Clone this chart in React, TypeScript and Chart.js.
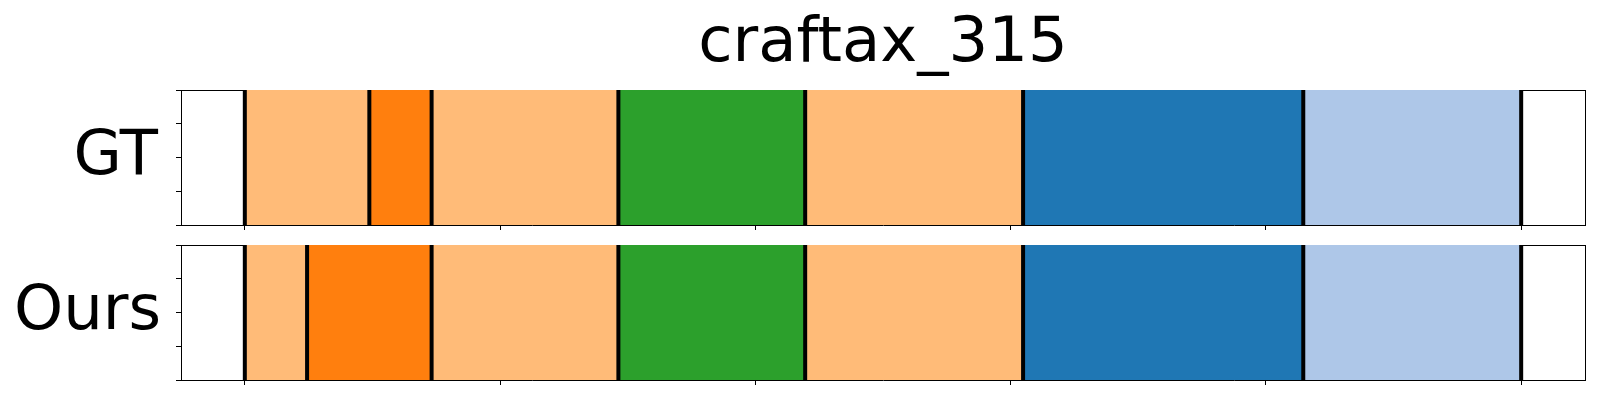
import React, { useEffect, useRef } from "react";
import { Chart, registerables } from "chart.js";

Chart.register(...registerables);
Chart.defaults.font.family = "'DejaVu Sans', sans-serif";

// ---- data ----
const titleText = "craftax_315";
const rowLabels = ["GT", "Ours"];
const totalFrames = 41;
const gtBoundaries = [0, 4, 6, 12, 18, 25, 34, 41];
const gtClasses = [3, 2, 3, 4, 3, 0, 1];
const oursBoundaries = [0, 2, 6, 12, 18, 25, 34, 41];
const oursClasses = [3, 2, 3, 4, 3, 0, 1];
const xTickValues = [0, 0.2, 0.4, 0.6, 0.8, 1.0];
const yTickValues = [0, 0.25, 0.5, 0.75, 1.0];

// ---- style ----
const palette = ["#1f77b4", "#aec7e8", "#ff7f0e", "#ffbb78", "#2ca02c"];

function buildDatasets(bounds: number[], classes: number[]) {
  const ds: any[] = [];
  bounds.forEach((b) => {
    ds.push({
      type: "line",
      data: [
        { x: b / totalFrames, y: 0 },
        { x: b / totalFrames, y: 1 },
      ],
      borderColor: "#000000",
      borderWidth: 4,
      borderCapStyle: "butt",
      pointRadius: 0,
      fill: false,
      order: 1,
      xAxisID: "x",
      yAxisID: "y",
    });
  });
  for (let i = 0; i < classes.length; i++) {
    ds.push({
      type: "line",
      data: [
        { x: bounds[i] / totalFrames, y: 1 },
        { x: bounds[i + 1] / totalFrames, y: 1 },
      ],
      backgroundColor: palette[classes[i]],
      borderColor: "rgba(0,0,0,0)",
      borderWidth: 0,
      pointRadius: 0,
      fill: "origin",
      order: 2,
      xAxisID: "x",
      yAxisID: "y",
    });
  }
  return ds;
}

function fixSize(s: any, w: number | null, h: number | null) {
  if (w !== null) s.width = w;
  if (h !== null) s.height = h;
  s.paddingTop = 0;
  s.paddingBottom = 0;
  s.paddingLeft = 0;
  s.paddingRight = 0;
}

type StripProps = {
  label: string;
  bounds: number[];
  classes: number[];
  showTitle: boolean;
  top: number;
  height: number;
  padTop: number;
  xAxisH: number;
  labelPad: number;
};

function Strip(p: StripProps) {
  const ref = useRef<HTMLCanvasElement>(null);
  useEffect(() => {
    if (!ref.current) return;
    const tickGrid = {
      display: true,
      drawOnChartArea: false,
      drawTicks: true,
      tickLength: 5,
      tickColor: "#000000",
      tickWidth: 1,
    };
    const frameGrid = { display: true, drawOnChartArea: false, drawTicks: false };
    const border = { display: true, color: "#000000", width: 1 };
    const chart = new Chart(ref.current, {
      type: "line",
      data: { datasets: buildDatasets(p.bounds, p.classes) },
      options: {
        responsive: false,
        animation: false,
        events: [],
        layout: { padding: { left: 0, right: 15, top: p.padTop, bottom: 0 } },
        plugins: {
          legend: { display: false },
          tooltip: { enabled: false },
          title: {
            display: p.showTitle,
            text: titleText,
            fullSize: false,
            color: "#000000",
            font: { size: 62.5, weight: "normal" },
            padding: { top: 7, bottom: 8 },
          },
        },
        scales: {
          x: {
            type: "linear",
            position: "bottom",
            min: -0.05,
            max: 1.05,
            afterBuildTicks: (s: any) => {
              s.ticks = xTickValues.map((v) => ({ value: v }));
            },
            ticks: { display: false },
            grid: tickGrid,
            border,
            afterFit: (s: any) => fixSize(s, null, p.xAxisH),
          },
          xTop: {
            type: "linear",
            position: "top",
            min: -0.05,
            max: 1.05,
            ticks: { display: false },
            grid: frameGrid,
            border,
            afterFit: (s: any) => fixSize(s, null, 0),
          },
          y: {
            type: "linear",
            position: "left",
            min: 0,
            max: 1,
            weight: 0,
            afterBuildTicks: (s: any) => {
              s.ticks = yTickValues.map((v) => ({ value: v }));
            },
            ticks: { display: false },
            grid: tickGrid,
            border,
            afterFit: (s: any) => fixSize(s, 5, null),
          },
          yLabel: {
            type: "category",
            position: "left",
            labels: [p.label],
            offset: true,
            weight: 1,
            grid: { display: false, drawTicks: false },
            border: { display: false },
            ticks: { color: "#000000", font: { size: 62.5 }, padding: p.labelPad },
            afterFit: (s: any) => fixSize(s, 176, null),
          },
          yRight: {
            type: "linear",
            position: "right",
            min: 0,
            max: 1,
            ticks: { display: false },
            grid: frameGrid,
            border,
            afterFit: (s: any) => fixSize(s, 0, null),
          },
        },
      } as any,
    });
    return () => chart.destroy();
  }, []);
  return (
    <canvas
      ref={ref}
      width={1600}
      height={p.height}
      style={{ position: "absolute", left: 0, top: p.top, width: 1600, height: p.height }}
    />
  );
}

export default function App() {
  return (
    <div
      style={{
        position: "absolute",
        left: 0,
        top: 0,
        width: 1600,
        height: 400,
        background: "#ffffff",
      }}
    >
      <Strip
        label={rowLabels[0]}
        bounds={gtBoundaries}
        classes={gtClasses}
        showTitle={true}
        top={0}
        height={235}
        padTop={0}
        xAxisH={10}
        labelPad={18}
      />
      <Strip
        label={rowLabels[1]}
        bounds={oursBoundaries}
        classes={oursClasses}
        showTitle={false}
        top={235}
        height={165}
        padTop={10}
        xAxisH={20}
        labelPad={15}
      />
    </div>
  );
}
